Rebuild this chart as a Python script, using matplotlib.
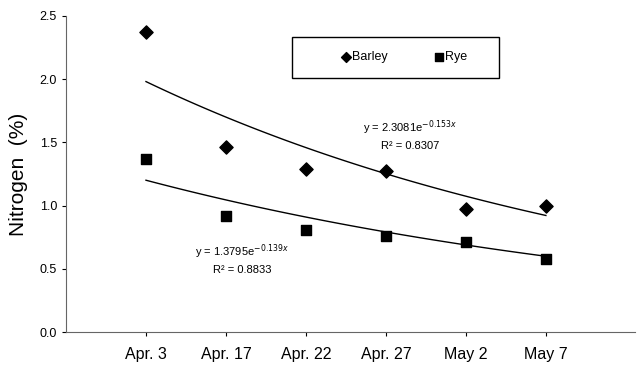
import numpy as np
import matplotlib
matplotlib.use("Agg")
import matplotlib.pyplot as plt
from matplotlib.patches import Rectangle

plt.rcParams['font.family'] = ['Liberation Sans', 'DejaVu Sans']

dates = ["Apr. 3", "Apr. 17", "Apr. 22", "Apr. 27", "May 2", "May 7"]
barley = [2.37, 1.46, 1.29, 1.27, 0.97, 1.00]
rye = [1.37, 0.92, 0.81, 0.76, 0.71, 0.58]

# exponential trend fits shown on the chart
barley_a, barley_b = 2.3081, -0.153
rye_a, rye_b = 1.3795, -0.139

fig = plt.figure(figsize=(6.37, 3.65), dpi=100)
ax = fig.add_axes([0.1036, 0.0904, 0.894, 0.866])

x = np.arange(1, len(dates) + 1)
xs = np.linspace(1, len(dates), 100)

ax.plot(xs, barley_a * np.exp(barley_b * xs), color='black', lw=1)
ax.plot(xs, rye_a * np.exp(rye_b * xs), color='black', lw=1)
ax.scatter(x, barley, marker='D', s=45, color='black', zorder=3, label='Barley')
ax.scatter(x, rye, marker='s', s=50, color='black', zorder=3, label='Rye')

ax.text(4.3, 1.43, "y = 2.3081e$^{-0.153x}$\nR² = 0.8307", ha='center', va='bottom',
        fontsize=8, linespacing=1.5)
ax.text(2.2, 0.45, "y = 1.3795e$^{-0.139x}$\nR² = 0.8833", ha='center', va='bottom',
        fontsize=8, linespacing=1.5)

ax.set_xlim(0, 7.12)
ax.set_ylim(0, 2.5)
ax.set_xticks(x)
ax.set_xticklabels(dates, fontsize=11.5)
ax.set_yticks(np.arange(0, 2.51, 0.5))
ax.set_yticklabels([f"{v:.1f}" for v in np.arange(0, 2.51, 0.5)], fontsize=9)
ax.set_ylabel("Nitrogen  (%)", fontsize=15, labelpad=8)
ax.tick_params(axis='x', length=3, pad=8)
ax.tick_params(axis='y', length=3)

for s in ['top', 'right']:
    ax.spines[s].set_visible(False)
for s in ['left', 'bottom']:
    ax.spines[s].set_color('#666666')
    ax.spines[s].set_linewidth(0.8)

# legend box frame drawn separately, legend entries placed inside
ax.add_patch(Rectangle((0.396, 0.804), 0.365, 0.13, transform=ax.transAxes,
                       fill=False, edgecolor='black', lw=1, zorder=4))
leg = ax.legend(loc='center left', bbox_to_anchor=(0.48, 0.869), ncol=2, frameon=False,
                fontsize=9, handletextpad=0.0, columnspacing=3.6, borderpad=0,
                borderaxespad=0, handlelength=1, markerscale=0.75)

fig.savefig("out.png", dpi=100)
